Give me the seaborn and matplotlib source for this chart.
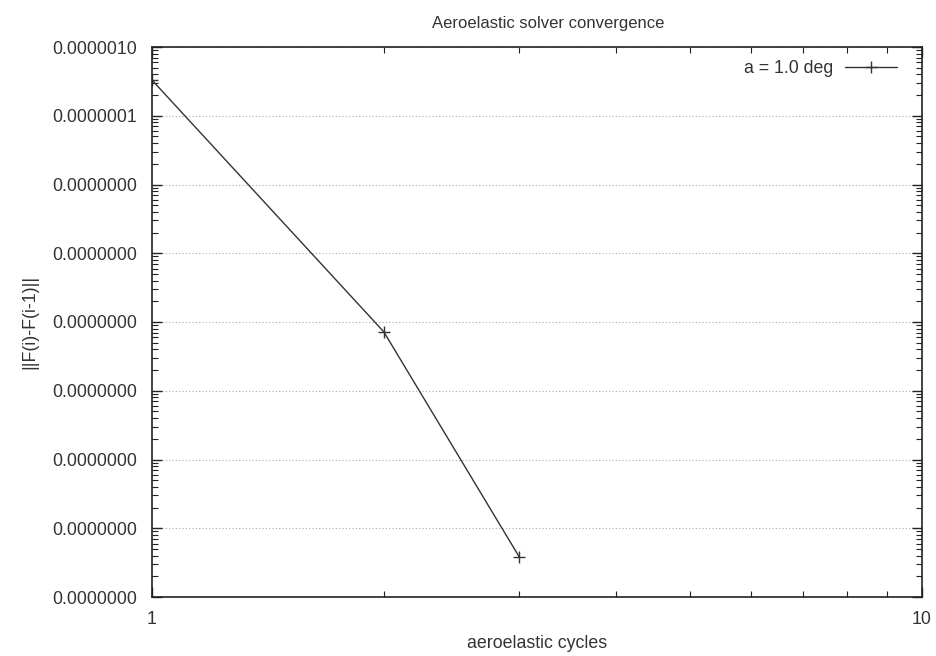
import matplotlib
matplotlib.use("Agg")
import matplotlib.pyplot as plt
import matplotlib.ticker as mticker
import seaborn as sns
import pandas as pd

# Convergence history of the coupled aeroelastic iterations
cycles = [1, 2, 3]
residual = [3.3e-7, 7.2e-11, 3.8e-14]
series_label = "a = 1.0 deg"

df = pd.DataFrame({"cycle": cycles, "residual": residual})

sns.set_style("ticks")
plt.rcParams["font.family"] = ["Liberation Sans", "DejaVu Sans"]

FS = 12.8

fig = plt.figure(figsize=(9.36, 6.56), dpi=100)
ax = fig.add_axes([152 / 936, 1 - 597 / 656, (922 - 152) / 936, (597 - 47) / 656])

sns.lineplot(data=df, x="cycle", y="residual", ax=ax, color="#333333",
             linewidth=1.0, marker="+", markersize=8, markeredgewidth=1.0,
             markeredgecolor="#333333", label=series_label)

ax.set_xscale("log")
ax.set_yscale("log")
ax.set_xlim(1, 10)
ax.set_ylim(1e-14, 1e-6)

# decade ticks kept strictly inside the plotted range
decades = list(range(-14, -5))
y_major = [10.0 ** e for e in decades]
y_minor = [m * 10.0 ** e for e in decades[:-1] for m in range(2, 10)]

ax.xaxis.set_major_locator(mticker.FixedLocator([1, 10]))
ax.xaxis.set_major_formatter(mticker.FixedFormatter(["1", "10"]))
ax.xaxis.set_minor_locator(mticker.FixedLocator(list(range(2, 10))))
ax.xaxis.set_minor_formatter(mticker.NullFormatter())

ax.yaxis.set_major_locator(mticker.FixedLocator(y_major))
ax.yaxis.set_major_formatter(mticker.FuncFormatter(lambda v, p: f"{v:.7f}"))
ax.yaxis.set_minor_locator(mticker.FixedLocator(y_minor))
ax.yaxis.set_minor_formatter(mticker.NullFormatter())

ax.tick_params(which="both", direction="in", top=True, right=True, colors="#222222",
               labelcolor="#333333", labelsize=FS)
ax.tick_params(axis="x", which="both", pad=10)
ax.tick_params(axis="y", which="both", pad=11)
ax.tick_params(which="major", length=7, width=1.0)
ax.tick_params(which="minor", length=4, width=0.8)

ax.grid(axis="y", which="major", linestyle=(0, (1, 2)), color="#aaaaaa", linewidth=0.8)
ax.grid(axis="x", which="both", visible=False)

for sp in ax.spines.values():
    sp.set_color("#222222")
    sp.set_linewidth(1.2)

ax.set_title("Aeroelastic solver convergence", fontsize=12, color="#333333", pad=14, x=0.515)
ax.set_xlabel("aeroelastic cycles", fontsize=FS, color="#333333", labelpad=5)
ax.set_ylabel("||F(i)-F(i-1)||", fontsize=FS, color="#333333", labelpad=10)

leg = ax.legend(loc="upper right", bbox_to_anchor=(0.9675, 0.976), frameon=False,
                fontsize=FS, markerfirst=False, borderpad=0, borderaxespad=0,
                handlelength=2.9, handletextpad=0.7)
for t in leg.get_texts():
    t.set_color("#333333")

fig.savefig("out.png", dpi=100)
